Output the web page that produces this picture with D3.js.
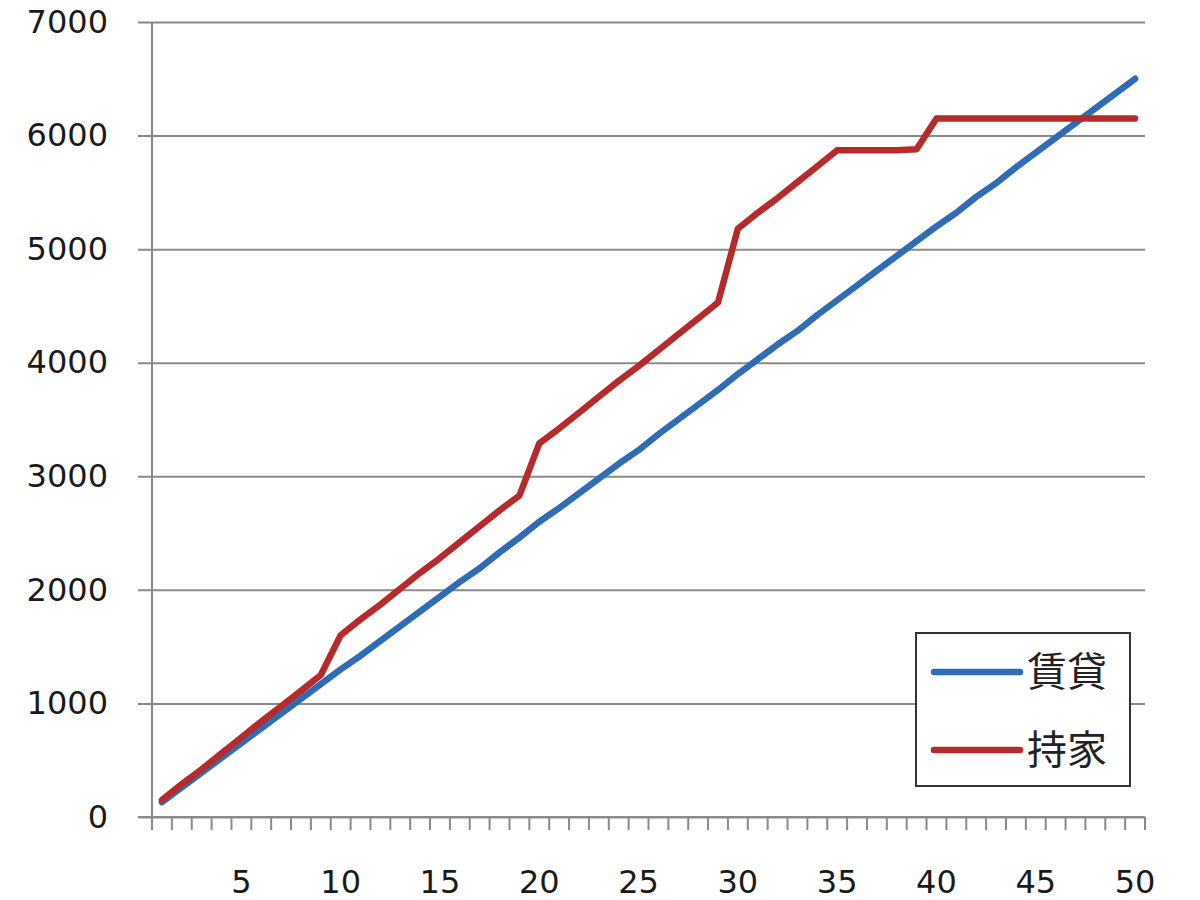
<!DOCTYPE html>
<html>
<head>
<meta charset="utf-8">
<script src="https://cdn.jsdelivr.net/npm/d3@7"></script>
<style>
  body { margin: 0; background: #fff; }
  svg { display: block; }
</style>
</head>
<body>
<div id="chart-area"></div>
<script>
// years 1..50
var years = d3.range(1, 51);

// 賃貸 (rent) cumulative cost
var rentValues = [130, 260, 390, 520, 650, 780, 910, 1040, 1170, 1300,
  1420, 1550, 1680, 1810, 1940, 2070, 2190, 2330, 2460, 2600,
  2720, 2850, 2980, 3110, 3230, 3370, 3500, 3630, 3760, 3900,
  4030, 4160, 4280, 4420, 4550, 4680, 4810, 4940, 5070, 5200,
  5320, 5460, 5580, 5720, 5850, 5980, 6110, 6240, 6370, 6500];

// 持家 (own home) cumulative cost
var ownValues = [150, 290, 420, 560, 700, 840, 975, 1110, 1250, 1600,
  1740, 1870, 2010, 2150, 2280, 2420, 2560, 2700, 2830, 3290,
  3420, 3560, 3700, 3840, 3970, 4110, 4250, 4390, 4530, 5180,
  5320, 5450, 5590, 5730, 5870, 5870, 5870, 5870, 5880, 6150,
  6150, 6150, 6150, 6150, 6150, 6150, 6150, 6150, 6150, 6150];

var seriesNames = ["賃貸", "持家"];
var seriesColors = ["#2f6cb5", "#b62a2b"];
var yTicks = [0, 1000, 2000, 3000, 4000, 5000, 6000, 7000];
var xLabels = [5, 10, 15, 20, 25, 30, 35, 40, 45, 50];

var svg = d3.select("#chart-area").append("svg")
    .attr("width", 1200)
    .attr("height", 900);

var plotL = 152, plotR = 1145, plotT = 22, plotB = 817;

var x = d3.scaleBand()
    .domain(years)
    .range([plotL, plotR])
    .padding(0);

var y = d3.scaleLinear()
    .domain([0, 7000])
    .range([plotB, plotT]);

var font = "'DejaVu Sans', Verdana, sans-serif";

// gridlines + y labels
var yAxis = svg.append("g")
    .attr("transform", "translate(" + plotL + ",0)")
    .call(d3.axisLeft(y).tickValues(yTicks).tickSize(-(plotR - plotL)).tickPadding(44).tickFormat(d3.format("d")));
yAxis.select(".domain").remove();
yAxis.selectAll(".tick line")
    .attr("x1", -14)
    .attr("stroke", "#8a8a8a")
    .attr("stroke-width", 2);
yAxis.selectAll(".tick text")
    .attr("font-family", font)
    .attr("font-size", 32)
    .attr("fill", "#1a1a1a");

// vertical axis line
svg.append("line")
    .attr("x1", plotL).attr("x2", plotL)
    .attr("y1", plotT).attr("y2", plotB + 13)
    .attr("stroke", "#8a8a8a")
    .attr("stroke-width", 2);

// x axis line
svg.append("line")
    .attr("x1", plotL - 14).attr("x2", plotR)
    .attr("y1", plotB).attr("y2", plotB)
    .attr("stroke", "#8a8a8a")
    .attr("stroke-width", 2);

// ticks between categories
var tickPos = years.map(function(d) { return x(d); }).concat([plotR]);
svg.selectAll(".xtick")
    .data(tickPos)
    .enter().append("line")
    .attr("class", "xtick")
    .attr("x1", function(d) { return d; })
    .attr("x2", function(d) { return d; })
    .attr("y1", plotB)
    .attr("y2", plotB + 13)
    .attr("stroke", "#8a8a8a")
    .attr("stroke-width", 2);

// x labels
svg.selectAll(".xlabel")
    .data(xLabels)
    .enter().append("text")
    .attr("class", "xlabel")
    .attr("x", function(d) { return x(d) + x.bandwidth() / 2; })
    .attr("y", 893)
    .attr("text-anchor", "middle")
    .attr("font-family", font)
    .attr("font-size", 32)
    .attr("fill", "#1a1a1a")
    .text(function(d) { return d; });

// lines
var line = d3.line()
    .x(function(d, i) { return x(years[i]) + x.bandwidth() / 2; })
    .y(function(d) { return y(d); });

[rentValues, ownValues].forEach(function(vals, i) {
  svg.append("path")
      .datum(vals)
      .attr("d", line)
      .attr("fill", "none")
      .attr("stroke", seriesColors[i])
      .attr("stroke-width", 6.5)
      .attr("stroke-linejoin", "round")
      .attr("stroke-linecap", "round");
});

// legend
var legend = svg.append("g");
legend.append("rect")
    .attr("x", 916).attr("y", 633)
    .attr("width", 214).attr("height", 153)
    .attr("fill", "#fff")
    .attr("stroke", "#333")
    .attr("stroke-width", 2);

seriesNames.forEach(function(name, i) {
  var ly = 672 + i * 78;
  legend.append("line")
      .attr("x1", 934).attr("x2", 1020)
      .attr("y1", ly).attr("y2", ly)
      .attr("stroke", seriesColors[i])
      .attr("stroke-width", 6.5)
      .attr("stroke-linecap", "round");
  legend.append("text")
      .attr("x", 1027)
      .attr("y", ly + 14)
      .attr("font-family", "'Noto Sans CJK JP', sans-serif")
      .attr("font-size", 40)
      .attr("fill", "#222")
      .text(name);
});
</script>
</body>
</html>
